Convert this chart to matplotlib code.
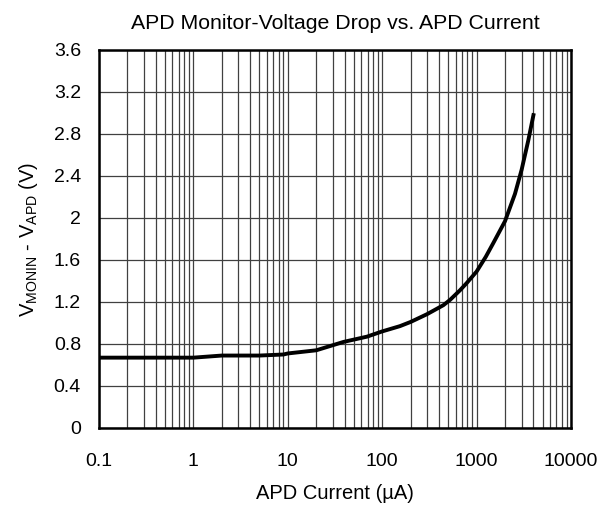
import numpy as np
import matplotlib
matplotlib.use("Agg")
import matplotlib.pyplot as plt
from matplotlib.ticker import LogLocator, NullFormatter

plt.rcParams['font.family'] = ['Liberation Sans', 'DejaVu Sans']

# APD current (uA) and voltage drop (V)
current_ua = [0.1, 0.3, 1, 2, 5, 9, 10, 20, 39, 69, 100, 154, 200, 300, 445, 523, 664,
              785, 1000, 1250, 1500, 2000, 2550, 3000, 3530, 4000]
vdrop = [0.67, 0.67, 0.67, 0.69, 0.69, 0.70, 0.71, 0.74, 0.82, 0.87, 0.92, 0.97, 1.01,
         1.085, 1.17, 1.22, 1.31, 1.38, 1.49, 1.63, 1.76, 1.97, 2.23, 2.46, 2.74, 2.98]

xticks = [0.1, 1, 10, 100, 1000, 10000]
xtick_labels = ["0.1", "1", "10", "100", "1000", "10000"]
yticks = [0, 0.4, 0.8, 1.2, 1.6, 2, 2.4, 2.8, 3.2, 3.6]
ytick_labels = ["0", "0.4", "0.8", "1.2", "1.6", "2", "2.4", "2.8", "3.2", "3.6"]

fig = plt.figure(figsize=(6.16, 5.07), dpi=100)
ax = fig.add_axes([99/616, 1 - 428/507, (571 - 99)/616, (428 - 50)/507])

ax.plot(current_ua, vdrop, color='black', lw=2.8, solid_joinstyle='round')

ax.set_xscale('log')
ax.set_xlim(0.1, 10000)
ax.set_ylim(0, 3.6)
ax.set_xticks(xticks)
ax.set_xticklabels(xtick_labels)
ax.xaxis.set_minor_locator(LogLocator(base=10, subs=np.arange(2, 10)))
ax.xaxis.set_minor_formatter(NullFormatter())
ax.set_yticks(yticks)
ax.set_yticklabels(ytick_labels)

ax.grid(True, which='both', axis='x', color='#404040', lw=0.9)
ax.grid(True, which='major', axis='y', color='#404040', lw=0.9)
ax.tick_params(which='both', length=0, labelsize=14)
ax.tick_params(axis='x', pad=18)
ax.tick_params(axis='y', pad=13)
for s in ax.spines.values():
    s.set_linewidth(1.8)
    s.set_color('black')

ax.set_title("APD Monitor-Voltage Drop vs. APD Current", fontsize=15.3, pad=15)
ax.set_xlabel("APD Current (\u00b5A)", fontsize=14.5, labelpad=10)
ax.set_ylabel(r"V$_{\mathregular{MONIN}}$ - V$_{\mathregular{APD}}$ (V)", fontsize=14.5, labelpad=10)

fig.savefig("out.png", dpi=100)
